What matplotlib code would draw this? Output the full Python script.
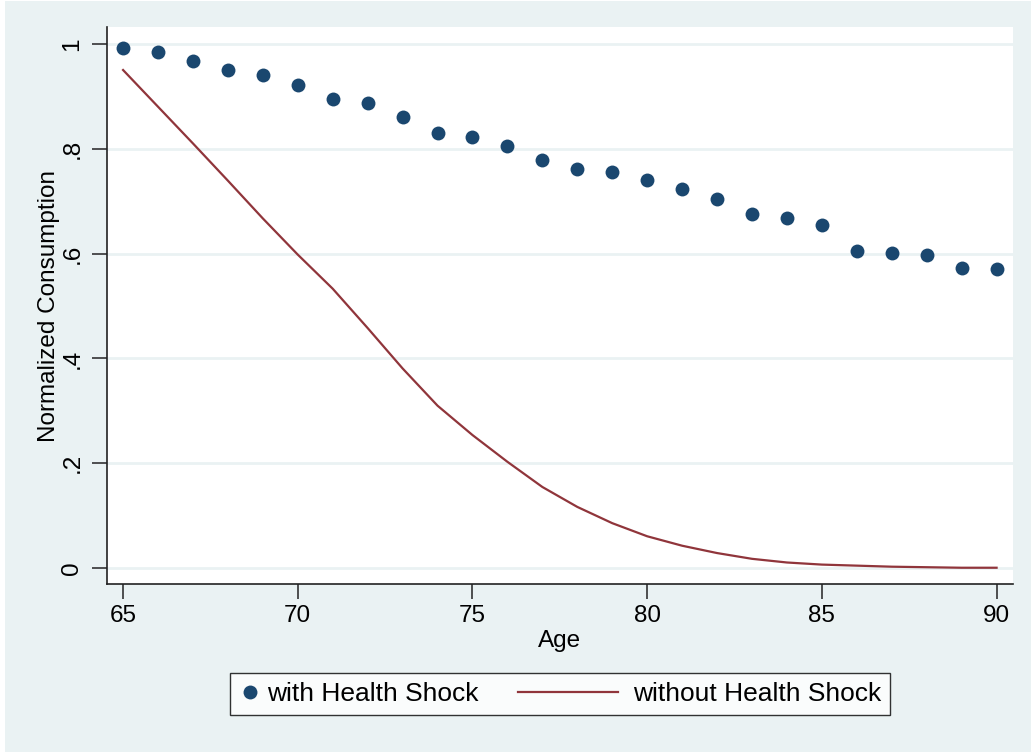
import numpy as np
import matplotlib.pyplot as plt
from matplotlib.patches import Rectangle
from matplotlib.legend_handler import HandlerLine2D

plt.rcParams['font.family'] = ['Liberation Sans', 'DejaVu Sans']

# Data
age = list(range(65, 91))
with_shock = [0.992, 0.985, 0.967, 0.950, 0.941, 0.922, 0.895, 0.887, 0.861, 0.829,
              0.823, 0.806, 0.778, 0.762, 0.756, 0.740, 0.724, 0.704, 0.676, 0.667,
              0.655, 0.604, 0.602, 0.598, 0.573, 0.570]
without_shock = [0.950, 0.880, 0.810, 0.739, 0.667, 0.598, 0.533, 0.458, 0.381, 0.310,
                 0.254, 0.203, 0.155, 0.117, 0.086, 0.061, 0.043, 0.029, 0.018, 0.011,
                 0.007, 0.005, 0.003, 0.002, 0.001, 0.001]
yticks = [0, 0.2, 0.4, 0.6, 0.8, 1.0]
ytick_labels = ['0', '.2', '.4', '.6', '.8', '1']
xticks = [65, 70, 75, 80, 85, 90]

bg = '#EAF2F3'
navy = '#1A476F'
maroon = '#90353B'


class LongLineHandler(HandlerLine2D):
    # stata-style legend: short key for the marker, long key for the line
    def create_artists(self, legend, orig_handle, xdescent, ydescent,
                       width, height, fontsize, trans):
        arts = super().create_artists(legend, orig_handle, xdescent, ydescent,
                                      width, height, fontsize, trans)
        for a in arts:
            y = a.get_ydata()[0]
            a.set_data([-xdescent - 3.3 * fontsize, -xdescent + width - 0.3 * fontsize],
                       [y, y])
        return arts


fig = plt.figure(figsize=(10.31, 7.55), dpi=100)
fig.patch.set_facecolor('white')
fig.patches.append(Rectangle((5 / 1031, 3 / 755), 1 - 5 / 1031, 1 - 4 / 755,
                             transform=fig.transFigure, facecolor=bg,
                             edgecolor='none', zorder=-10))

ax = fig.add_axes([107 / 1031, 1 - 584 / 755, 906 / 1031, 557 / 755])
ax.set_facecolor('white')

ax.plot(age, with_shock, 'o', color=navy, markersize=10, markeredgewidth=0,
        label='with Health Shock', zorder=3)
line, = ax.plot(age, without_shock, '-', color=maroon, linewidth=1.6,
                label='without Health Shock', zorder=3)

ax.set_xlim(64.54, 90.47)
ax.set_ylim(-0.030, 1.032)
ax.set_xticks(xticks)
ax.set_yticks(yticks)
ax.set_yticklabels(ytick_labels, rotation=90, va='center')
ax.tick_params(axis='both', labelsize=17.5, length=11, width=1.2, color='#333333')
ax.tick_params(axis='y', pad=6)
ax.tick_params(axis='x', pad=4)

for y in yticks:
    ax.axhline(y, color=bg, linewidth=2, zorder=1)

for side in ['top', 'right']:
    ax.spines[side].set_visible(False)
for side in ['left', 'bottom']:
    ax.spines[side].set_linewidth(1.2)
    ax.spines[side].set_color('#222222')

ax.set_xlabel('Age', fontsize=17.5, labelpad=2)
ax.set_ylabel('Normalized Consumption', fontsize=17.5, labelpad=1)

leg = fig.legend(loc='center', bbox_to_anchor=(560 / 1031, 1 - 694 / 755), ncol=2,
                 fontsize=19, frameon=True, fancybox=False, borderpad=0.35,
                 handlelength=0.8, columnspacing=4.8, handletextpad=0.25,
                 borderaxespad=0, handler_map={line: LongLineHandler()})
leg.get_frame().set_edgecolor('black')
leg.get_frame().set_linewidth(1.0)

fig.savefig('out.png', dpi=100, facecolor=fig.get_facecolor())
